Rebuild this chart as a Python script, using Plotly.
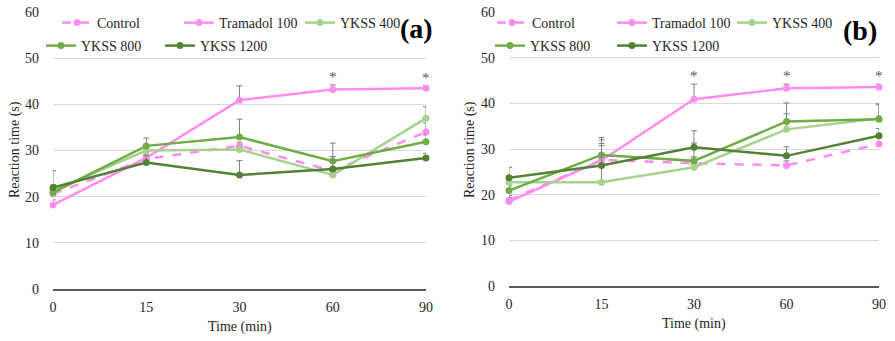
import plotly.graph_objects as go

# ---------------- data ----------------
time_labels = ["0", "15", "30", "60", "90"]
time_idx = [0, 1, 2, 3, 4]
series_names = ["Control", "Tramadol 100", "YKSS 400", "YKSS 800", "YKSS 1200"]

# panel (a)
a_control = [20.6, 28.2, 31.0, 25.6, 34.0]
a_tramadol = [18.2, 28.4, 40.9, 43.2, 43.5]
a_ykss400 = [21.3, 30.0, 30.2, 24.7, 37.0]
a_ykss800 = [20.9, 31.0, 32.9, 27.7, 31.9]
a_ykss1200 = [22.0, 27.4, 24.7, 26.0, 28.4]
a_control_err = [2.0, 1.0, 0.8, 0.5, 2.0]
a_tramadol_err = [1.1, 0.5, 3.1, 1.0, 0.5]
a_ykss400_err = [1.0, 1.0, 0.6, 1.0, 2.5]
a_ykss800_err = [1.5, 1.7, 3.9, 3.9, 1.5]
a_ykss1200_err = [3.6, 1.5, 3.1, 2.7, 1.0]
a_star_idx = [3, 4]

# panel (b)
b_control = [18.8, 27.6, 26.9, 26.4, 31.1]
b_tramadol = [18.5, 27.5, 40.9, 43.3, 43.6]
b_ykss400 = [22.7, 22.7, 26.0, 34.3, 36.7]
b_ykss800 = [20.9, 28.7, 27.4, 36.0, 36.5]
b_ykss1200 = [23.7, 26.4, 30.4, 28.5, 32.9]
b_control_err = [1.0, 3.1, 1.0, 1.0, 1.5]
b_tramadol_err = [0.8, 0.5, 3.3, 0.9, 0.6]
b_ykss400_err = [1.0, 8.5, 2.3, 3.4, 3.0]
b_ykss800_err = [1.0, 3.8, 3.9, 4.1, 3.4]
b_ykss1200_err = [2.3, 5.6, 3.6, 2.0, 1.6]
b_star_idx = [2, 3, 4]

# ---------------- style ----------------
W, H = 895, 341
PINK = "#FF8DF0"
LGREEN = "#A9D18E"
MGREEN = "#70AD47"
DGREEN = "#548235"
colors = [PINK, PINK, LGREEN, MGREEN, DGREEN]
dashes = ["dash", "solid", "solid", "solid", "solid"]
FONT = "Liberation Serif"
TXT = "#262626"

# legend box left positions (px) for each entry in each panel
legend_box_x = {
    "a": [57, 179, 300, 41, 160],
    "b": [492, 612, 732, 490, 612],
}
legend_row_y = [23, 23, 23, 46, 46]


def px_x(p):
    return p / W


def px_y(p):
    return (H - p) / H


fig = go.Figure()

panels = [
    dict(key="a", xa="x", ya="y",
         vals=[a_control, a_tramadol, a_ykss400, a_ykss800, a_ykss1200],
         errs=[a_control_err, a_tramadol_err, a_ykss400_err, a_ykss800_err, a_ykss1200_err],
         stars=a_star_idx),
    dict(key="b", xa="x2", ya="y2",
         vals=[b_control, b_tramadol, b_ykss400, b_ykss800, b_ykss1200],
         errs=[b_control_err, b_tramadol_err, b_ykss400_err, b_ykss800_err, b_ykss1200_err],
         stars=b_star_idx),
]

leg_common = dict(orientation="h", xanchor="left", yanchor="middle",
                  bgcolor="rgba(0,0,0,0)", itemwidth=30, borderwidth=0,
                  font=dict(family=FONT, size=14, color=TXT))
legend_layout = {}
n = 0
for p in panels:
    for i, name in enumerate(series_names):
        n += 1
        lname = "legend" if n == 1 else f"legend{n}"
        legend_layout[lname] = dict(x=px_x(legend_box_x[p["key"]][i]),
                                    y=px_y(legend_row_y[i]), **leg_common)
        fig.add_trace(go.Scatter(
            x=time_idx, y=p["vals"][i], name=name, mode="lines+markers",
            xaxis=p["xa"], yaxis=p["ya"], legend=lname,
            line=dict(color=colors[i], width=2.5, dash=dashes[i]),
            marker=dict(color=colors[i], size=7),
            error_y=dict(type="data", symmetric=False, array=p["errs"][i],
                         arrayminus=[0] * len(time_idx),
                         color="#808080", thickness=1, width=3),
            cliponaxis=False, showlegend=True,
        ))
    # asterisks above Tramadol
    tram = p["vals"][1]
    terr = p["errs"][1]
    for k in p["stars"]:
        fig.add_annotation(x=time_idx[k], y=tram[k] + terr[k] + 1.7,
                           xref=p["xa"], yref=p["ya"], text="*", showarrow=False,
                           font=dict(family=FONT, size=15, color="#595959"),
                           xanchor="center", yanchor="middle")

axis_common_x = dict(range=[0, 4], tickvals=time_idx, ticktext=time_labels,
                     showgrid=False, zeroline=False, showline=True,
                     linecolor="#595959", linewidth=2, ticks="",
                     ticklabelstandoff=4, automargin=False,
                     tickfont=dict(family=FONT, size=14, color=TXT))
axis_common_y = dict(range=[0, 60], dtick=10, showgrid=True, gridcolor="#D9D9D9",
                     gridwidth=1, zeroline=False, showline=False, ticks="",
                     ticklabelstandoff=13, automargin=False,
                     tickfont=dict(family=FONT, size=14, color=TXT))

fig.update_layout(
    template="none",
    width=W, height=H,
    margin=dict(l=0, r=0, t=0, b=0, pad=0, autoexpand=False),
    paper_bgcolor="white", plot_bgcolor="white",
    xaxis=dict(domain=[px_x(53), px_x(426)], anchor="y", **axis_common_x),
    yaxis=dict(domain=[px_y(289), px_y(12)], anchor="x", **axis_common_y),
    xaxis2=dict(domain=[px_x(509), px_x(879)], anchor="y2", **axis_common_x),
    yaxis2=dict(domain=[px_y(286), px_y(12)], anchor="x2", **axis_common_y),
    **legend_layout,
)

# axis titles and panel labels
def label(x, y, text, size=14, angle=0, color=TXT):
    fig.add_annotation(x=px_x(x), y=px_y(y), xref="paper", yref="paper",
                       text=text, showarrow=False, textangle=angle,
                       xanchor="center", yanchor="middle",
                       font=dict(family=FONT, size=size, color=color))


label(240, 327, "Time (min)")
label(694, 324, "Time (min)")
label(15, 150, "Reaction time (s)", angle=-90)
label(470, 150, "Reaction time (s)", angle=-90)
label(416, 28, "<b>(a)</b>", size=28, color="black")
label(860, 30, "<b>(b)</b>", size=28, color="black")

fig.write_html("out.html")
